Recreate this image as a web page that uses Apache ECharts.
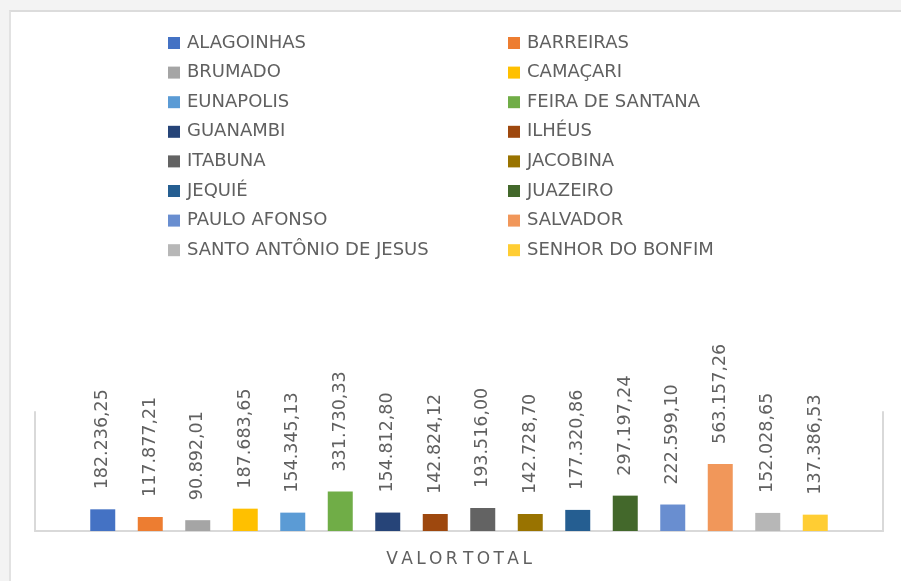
<!DOCTYPE html>
<html>
<head>
<meta charset="utf-8">
<script src="https://cdn.jsdelivr.net/npm/echarts@6/dist/echarts.min.js"></script>
<style>
	html,body{margin:0;padding:0;background:#f3f3f3;overflow:hidden;width:901px;height:581px;}
	#frame{position:absolute;left:9px;top:10px;width:900px;height:580px;background:#fff;
		border-top:2px solid #dcdcdc;border-left:2px solid #e2e2e2;box-sizing:border-box;}
	#chart{position:absolute;left:0;top:0;width:901px;height:581px;}
</style>
</head>
<body>
<div id="frame"></div>
<div id="chart"></div>
<script>
'use strict';

var categories = ['VALOR TOTAL'];
var cities = ['ALAGOINHAS','BARREIRAS','BRUMADO','CAMAÇARI','EUNAPOLIS','FEIRA DE SANTANA',
	'GUANAMBI','ILHÉUS','ITABUNA','JACOBINA','JEQUIÉ','JUAZEIRO','PAULO AFONSO','SALVADOR',
	'SANTO ANTÔNIO DE JESUS','SENHOR DO BONFIM'];
var values = [182236.25,117877.21,90892.01,187683.65,154345.13,331730.33,154812.80,142824.12,
	193516.00,142728.70,177320.86,297197.24,222599.10,563157.26,152028.65,137386.53];
var colors = ['#4472C4','#ED7D31','#A5A5A5','#FFC000','#5B9BD5','#70AD47','#264478','#9E480E',
	'#636363','#997300','#255E91','#43682B','#698ED0','#F1975A','#B7B7B7','#FFCD33'];

var fontFamily = '"DejaVu Sans", "Open Sans", sans-serif';
var textColor = '#606060';

// formato brasileiro: 182.236,25
var fmtBR = function(v){
	var p = v.toFixed(2).split('.');
	return p[0].replace(/\B(?=(\d{3})+(?!\d))/g,'.') + ',' + p[1];
};

var leftNames = cities.filter(function(c,i){return i % 2 === 0;});
var rightNames = cities.filter(function(c,i){return i % 2 === 1;});

var legendBase = function(names,left){
	return {
		data: names,
		orient: 'vertical',
		left: left,
		top: 28,
		icon: 'rect',
		itemWidth: 12,
		itemHeight: 12,
		itemGap: 9.6,
		selectedMode: false,
		textStyle: {color: textColor, fontSize: 18, lineHeight: 20, fontFamily: fontFamily, padding: [0,0,0,2]}
	};
};

var series = cities.map(function(name,i){
	return {
		name: name,
		type: 'bar',
		data: [values[i]],
		barWidth: 25,
		barGap: '90%',
		itemStyle: {color: colors[i]},
		label: {
			show: true,
			position: 'top',
			rotate: 90,
			align: 'left',
			verticalAlign: 'middle',
			distance: 20,
			color: textColor,
			fontSize: 17.5,
			fontFamily: fontFamily,
			formatter: function(p){ return fmtBR(p.value); }
		}
	};
});

var option = {
	animation: false,
	legend: [legendBase(leftNames,163), legendBase(rightNames,503)],
	grid: {left: 35, right: 18, top: 412, bottom: 50, containLabel: false},
	xAxis: [{
		type: 'category',
		data: categories,
		axisLine: {show: true, lineStyle: {color: '#d9d9d9', width: 2}},
		axisTick: {show: false},
		axisLabel: {
			color: textColor,
			fontSize: 17,
			fontFamily: fontFamily,
			margin: 20,
			// espaçamento entre letras
			formatter: function(v){
				return v.split(' ').map(function(w){ return w.split('').join('\u2009'); }).join(' ');
			}
		}
	}],
	yAxis: [{
		type: 'value',
		min: 0,
		max: 1000000,
		axisLine: {show: true, lineStyle: {color: '#d9d9d9', width: 2}},
		axisTick: {show: false},
		axisLabel: {show: false},
		splitLine: {show: false}
	},{
		type: 'value',
		position: 'right',
		min: 0,
		max: 1000000,
		axisLine: {show: true, lineStyle: {color: '#d9d9d9', width: 2}},
		axisTick: {show: false},
		axisLabel: {show: false},
		splitLine: {show: false}
	}],
	series: series
};

var myChart = echarts.init(document.getElementById('chart'));
myChart.setOption(option);
</script>
</body>
</html>
